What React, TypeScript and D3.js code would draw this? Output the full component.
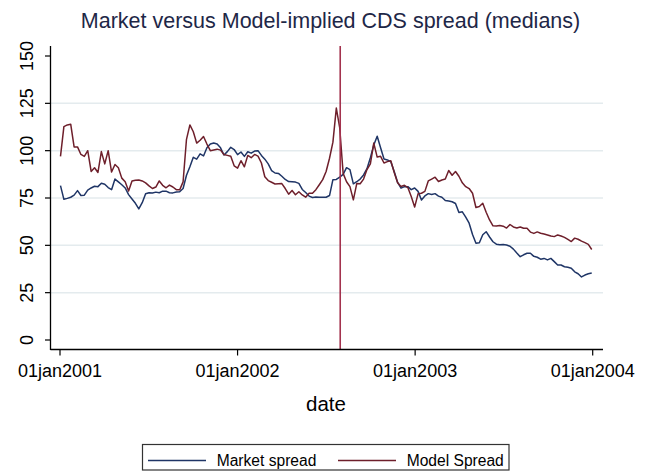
import React from "react";
import * as d3 from "d3";

const chartTitle = "Market versus Model-implied CDS spread (medians)";
const xAxisTitle = "date";
const xTickDates = ["2001-01-01", "2002-01-01", "2003-01-01", "2004-01-01"];
const xTickLabels = ["01jan2001", "01jan2002", "01jan2003", "01jan2004"];
const yTicks = [0, 25, 50, 75, 100, 125, 150];
const gridValues = [25, 50, 75, 100, 125];
const eventDate = "2002-07-31";
const firstObs = "2001-01-02";
const lastObs = "2004-01-01";
const legendLabels = ["Market spread", "Model Spread"];

const marketSpread = [
  81.5, 74.3, 74.8, 75.4, 76.5, 78.9, 76.3, 76.5, 79.2, 80.3,
  81.2, 81, 82.8, 82.3, 80.5, 79.4, 85, 83.5, 82, 80.3,
  76.8, 74.5, 72.2, 69.2, 72.5, 77.2, 77.8, 77.6, 78.1, 77.8,
  78.6, 78.6, 77.8, 77.7, 78.2, 78.3, 80, 87, 91.5, 96.5,
  95.5, 98.3, 97.2, 101.5, 103.5, 104, 103.5, 101.5, 97.7, 99.5,
  101.8, 100.6, 97.9, 99.3, 97, 99.4, 98.7, 99.8, 100, 97.5,
  95.5, 93, 89.5, 88.2, 88, 86.5, 84.8, 83.7, 83.6, 83.4,
  82.7, 79.5, 77.9, 76, 75.3, 75.5, 75.4,
  75.4, 75.4, 76.3, 84.7, 84.8, 86, 87.5, 91, 90, 82.5,
  83.6, 85, 87.2, 90.5, 96.3, 103, 107.6, 101.5, 95.6, 95.1,
  94.2, 89, 83.2, 80.2, 81, 81, 79.4, 80.3, 78.5, 73.9,
  76.1, 77.3, 76.8, 77.3, 76, 75.4, 73.7, 73.4, 73, 72.1,
  67.3, 67.7, 64.9, 61.7, 55.7, 51.1, 51.4, 55.6, 57.2, 54.4,
  51.9, 50.6, 50.3, 50.4, 50.2, 49.5, 48, 45.9, 44, 45,
  45.8, 45.8, 44.2, 43.7, 42.7, 43.1, 42.3, 43.1, 41.4, 39.6,
  39.6, 38.7, 38.4, 37.9, 36, 35, 33.3, 34.3, 35, 35.4,
];

const modelSpread = [
  97, 112.7, 113.6, 114, 102, 102, 98, 97, 100, 89,
  91, 88.5, 99.5, 93, 100, 88.7, 92.7, 91, 85.5, 83.6,
  78.7, 84, 84.4, 84.5, 84, 83, 81.4, 80, 80.8, 84,
  81.7, 80.4, 81.8, 80.8, 79.4, 79.3, 83.5, 106, 113.6, 110,
  104, 105.5, 107.5, 103.5, 100, 100.4, 100.8, 100.3, 98, 97.5,
  97, 92, 90.8, 94.7, 91.5, 97.5, 96.3, 98, 97.1, 93.5,
  86.2, 84.2, 83.3, 82.4, 82.5, 82.6, 80, 77, 79, 76.7,
  78.3, 76.6, 75.4, 77.5, 77.5, 79.4, 82,
  84.7, 89, 96, 104.5, 122.5, 112, 88, 83.6, 81, 74,
  82.6, 82.5, 85, 90, 93, 104, 96.6, 97, 93.5, 94.2,
  94.7, 88.5, 83, 81.1, 81.7, 80.5, 75.8, 70.2, 77.2, 77.5,
  78.5, 84, 85, 86, 83.7, 84.5, 85, 89.5, 87, 89,
  86.5, 83, 81, 80, 77.5, 70, 70.5, 72.2, 67.5, 63.4,
  60.3, 60.2, 60.5, 60.1, 59.1, 61, 59.7, 59.2, 59.7, 59,
  59, 57, 56.3, 57.1, 56.4, 56, 55.5, 54.9, 54.6, 55.5,
  54.9, 54.2, 53.1, 52, 53.8, 53.2, 52.2, 51.4, 50.5, 47.8,
];

const FONT = "'Liberation Sans', Arial, Helvetica, sans-serif";
const parse = d3.timeParse("%Y-%m-%d");

export default function App() {
  const W = 654;
  const H = 472;
  const axisX = 50.5;
  const axisY = 349.5;
  const plotRight = 603;
  const plotTop = 46;

  const obsDates = d3.timeDay.range(parse(firstObs)!, parse(lastObs)!, 7);

  const x = d3
    .scaleTime()
    .domain([parse(xTickDates[0])!, parse(xTickDates[3])!])
    .range([60, 592.7]);
  const y = d3.scaleLinear().domain([0, 150]).range([340, 56]);

  const line = d3
    .line<number>()
    .x((_, i) => x(obsDates[i]))
    .y((d) => y(d));

  const marketColor = "#1f3566";
  const modelColor = "#6e1f2b";
  const eventColor = "#a3324e";
  const gridColor = "#e4ebee";

  const ex = x(parse(eventDate)!);

  return (
    <svg
      width={W}
      height={H}
      style={{ position: "absolute", left: 0, top: 0, background: "#fff" }}
      fontFamily={FONT}
    >
      <rect x={0} y={0} width={W} height={H} fill="#fff" />
      <text
        x={330.5}
        y={28}
        textAnchor="middle"
        fontSize={21.5}
        fill="#1e2747"
      >
        {chartTitle}
      </text>

      {gridValues.map((v) => (
        <line
          key={"g" + v}
          x1={axisX}
          x2={plotRight}
          y1={y(v)}
          y2={y(v)}
          stroke={gridColor}
          strokeWidth={1.5}
        />
      ))}

      <path
        d={line(marketSpread) || ""}
        fill="none"
        stroke={marketColor}
        strokeWidth={1.5}
        strokeLinejoin="round"
      />
      <path
        d={line(modelSpread) || ""}
        fill="none"
        stroke={modelColor}
        strokeWidth={1.5}
        strokeLinejoin="round"
      />

      <line
        x1={ex}
        x2={ex}
        y1={plotTop}
        y2={axisY}
        stroke={eventColor}
        strokeWidth={1.6}
      />

      {/* y axis */}
      <line x1={axisX} x2={axisX} y1={plotTop} y2={axisY + 0.5} stroke="#000" strokeWidth={1.3} />
      {yTicks.map((v) => (
        <g key={"yt" + v}>
          <line x1={axisX - 5.5} x2={axisX} y1={y(v)} y2={y(v)} stroke="#000" strokeWidth={1.2} />
          <text
            transform={`translate(33.3,${y(v)}) rotate(-90)`}
            textAnchor="middle"
            fontSize={18}
            fill="#000"
          >
            {v}
          </text>
        </g>
      ))}

      {/* x axis */}
      <line x1={axisX} x2={plotRight} y1={axisY} y2={axisY} stroke="#000" strokeWidth={1.3} />
      {xTickDates.map((d, i) => {
        const px = x(parse(d)!);
        return (
          <g key={"xt" + d}>
            <line x1={px} x2={px} y1={axisY} y2={axisY + 6} stroke="#000" strokeWidth={1.2} />
            <text x={px} y={376.5} textAnchor="middle" fontSize={18} fill="#000">
              {xTickLabels[i]}
            </text>
          </g>
        );
      })}
      <text x={326} y={411} textAnchor="middle" fontSize={20.5} fill="#000">
        {xAxisTitle}
      </text>

      {/* legend */}
      <rect x={142.5} y={444.5} width={366.5} height={25.5} fill="#fff" stroke="#333" strokeWidth={1.2} />
      <line x1={148} x2={206} y1={460.5} y2={460.5} stroke={marketColor} strokeWidth={1.3} />
      <text x={216.7} y={465.7} fontSize={15.6} fill="#000">
        {legendLabels[0]}
      </text>
      <line x1={338} x2={396} y1={460.5} y2={460.5} stroke={modelColor} strokeWidth={1.3} />
      <text x={406.7} y={465.7} fontSize={15.6} fill="#000">
        {legendLabels[1]}
      </text>
    </svg>
  );
}
